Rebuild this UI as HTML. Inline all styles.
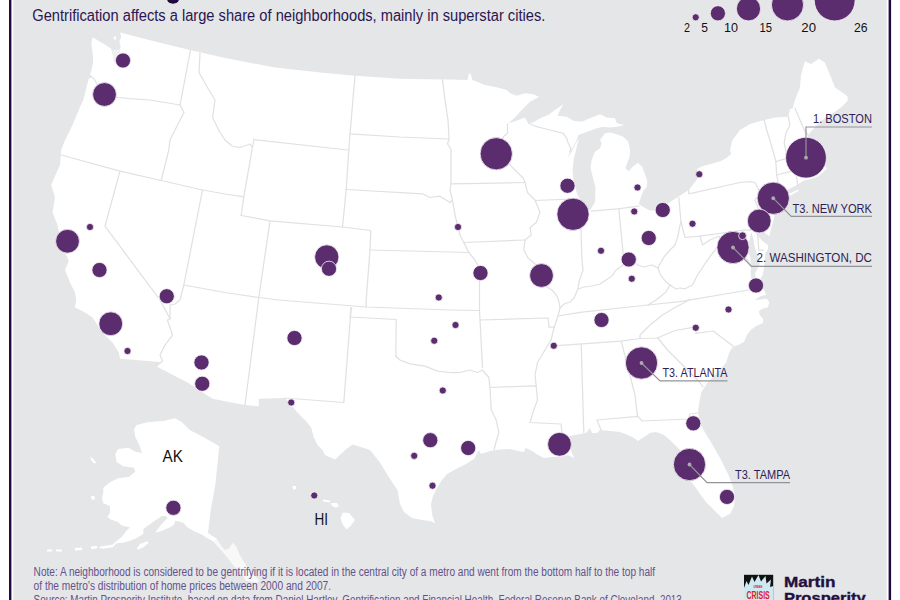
<!DOCTYPE html>
<html lang="en"><head><meta charset="utf-8"><title>Gentrification map</title>
<style>html,body{margin:0;padding:0;background:#fff;}body{width:900px;height:600px;overflow:hidden;position:relative;}svg{position:absolute;left:0;top:0;display:block;}text{font-family:"Liberation Sans",sans-serif;}</style></head><body>
<svg width="900" height="600" viewBox="0 0 900 600">
<rect x="0" y="0" width="900" height="600" fill="#ffffff"/>
<rect x="13.3" y="-5" width="873.4" height="610" fill="#e5e6e8"/>
<g fill="#ffffff" stroke="none">
<path d="M92.7,37.3 L99.3,41.3 L106.0,45.3 L111.3,48.7 L112.7,54.7 L113.3,60.0 L114.7,64.0 L116.0,58.7 L119.3,52.0 L120.7,46.7 L119.3,41.3 L121.3,37.3 L120.0,32.5 L155.0,41.5 L190.0,50.0 L225.0,58.0 L275.0,67.5 L325.0,73.0 L355.0,75.8 L400.0,78.8 L442.5,79.5 L450.0,79.5 L467.5,80.0 L468.8,73.8 L470.5,73.5 L472.5,80.0 L485.0,85.0 L497.5,87.5 L506.7,90.0 L510.0,93.3 L516.7,95.8 L525.0,93.3 L533.3,94.2 L539.2,96.7 L530.0,101.7 L521.7,110.0 L515.0,117.5 L508.3,123.3 L516.7,120.8 L525.0,117.5 L526.7,120.8 L528.3,123.0 L533.3,122.5 L540.0,118.3 L548.3,115.0 L555.0,110.0 L563.3,104.2 L559.2,111.7 L557.5,115.8 L566.7,116.7 L573.3,120.8 L581.7,121.7 L591.7,117.5 L600.0,114.2 L606.7,117.5 L615.0,118.3 L616.7,123.3 L624.2,125.0 L616.7,126.7 L610.0,127.5 L603.3,126.7 L596.7,128.3 L590.0,130.8 L583.3,133.3 L578.3,135.0 L576.7,140.0 L573.3,146.7 L570.0,151.7 L567.5,158.3 L571.5,152.0 L575.5,144.0 L579.0,138.0 L576.5,148.0 L574.0,158.0 L572.5,170.0 L573.8,182.5 L577.5,195.0 L582.5,203.8 L590.0,210.5 L595.0,202.0 L595.5,187.5 L592.5,176.0 L590.5,168.0 L591.7,160.0 L595.0,151.7 L600.0,148.3 L601.7,143.3 L600.0,140.0 L605.0,133.3 L610.0,132.5 L616.7,134.2 L623.3,136.7 L628.3,141.7 L630.0,150.0 L629.5,157.3 L627.3,162.7 L625.3,168.0 L628.7,171.3 L632.7,166.7 L638.0,162.7 L642.0,166.7 L644.7,173.3 L647.3,181.3 L646.7,186.7 L643.3,190.7 L641.3,196.0 L640.0,200.0 L638.8,204.0 L645.0,208.0 L650.0,210.5 L658.0,210.5 L666.0,205.0 L675.0,198.8 L688.8,190.0 L698.0,178.0 L697.0,169.0 L702.0,166.2 L711.0,164.0 L721.0,161.0 L727.0,157.5 L731.3,154.0 L730.0,150.0 L732.5,140.0 L740.0,130.0 L750.0,124.0 L764.2,120.0 L775.0,117.5 L788.3,116.7 L790.0,108.8 L792.5,108.8 L795.0,100.0 L800.0,87.5 L801.0,75.0 L805.0,61.2 L811.0,64.0 L818.8,58.8 L825.0,62.5 L830.0,75.0 L835.0,87.5 L847.5,96.2 L847.5,101.0 L841.7,106.7 L835.0,111.7 L827.5,116.0 L820.0,122.0 L811.7,130.8 L808.3,135.0 L806.0,142.0 L811.0,147.0 L808.0,155.0 L812.0,163.0 L820.0,166.0 L825.5,166.5 L827.0,168.5 L825.0,170.0 L819.0,176.0 L811.0,179.0 L803.0,181.0 L797.0,185.0 L788.0,189.5 L782.0,193.5 L776.0,198.0 L773.0,202.0 L775.0,207.0 L775.0,212.5 L773.5,220.0 L772.0,225.3 L769.3,236.0 L765.0,233.0 L760.0,229.0 L757.0,229.0 L756.0,233.3 L762.7,241.3 L768.0,245.3 L768.0,249.3 L765.3,253.3 L765.0,260.0 L764.0,268.0 L762.7,274.7 L759.5,280.5 L755.8,278.0 L755.0,273.5 L757.3,269.0 L759.3,265.0 L760.0,261.3 L757.3,256.0 L754.7,246.7 L753.3,238.7 L751.3,232.0 L749.3,240.0 L748.0,250.7 L750.7,258.7 L750.9,268.0 L750.6,273.0 L751.3,278.0 L752.0,281.5 L757.0,282.0 L758.0,285.0 L762.0,288.0 L764.0,290.0 L766.0,294.7 L760.0,296.5 L754.7,300.0 L761.0,299.5 L766.7,298.7 L769.3,302.0 L768.0,307.3 L763.0,308.5 L758.7,311.3 L760.0,315.3 L763.3,319.3 L762.7,323.3 L756.0,326.0 L750.7,330.0 L746.7,335.3 L744.0,342.0 L738.7,344.7 L733.3,346.7 L730.7,350.0 L728.8,353.8 L726.2,362.5 L717.5,372.5 L707.5,382.5 L701.2,392.5 L698.8,405.0 L698.0,412.0 L700.0,424.0 L706.0,434.0 L712.0,444.0 L720.0,458.0 L728.0,474.0 L732.0,484.0 L735.0,496.0 L734.0,506.0 L730.0,514.0 L722.0,518.0 L718.0,514.0 L712.0,508.0 L706.0,502.0 L700.0,494.0 L696.0,488.0 L690.0,480.0 L684.0,470.0 L682.0,455.0 L680.0,450.0 L676.0,446.0 L670.0,440.0 L664.0,435.0 L656.0,432.0 L650.0,433.0 L644.0,437.0 L638.0,441.0 L634.0,438.0 L628.0,435.0 L620.0,432.0 L610.0,431.0 L600.0,430.0 L597.0,433.0 L592.0,433.0 L590.0,428.0 L586.0,433.0 L580.0,434.0 L570.0,436.0 L566.0,440.0 L570.0,448.0 L574.0,458.0 L568.0,455.0 L560.0,457.0 L552.0,457.0 L544.0,458.0 L538.0,455.0 L532.0,451.0 L526.0,448.0 L525.0,449.0 L524.0,452.0 L518.0,451.0 L510.0,449.0 L500.0,449.6 L490.0,451.0 L481.0,454.0 L479.0,450.0 L477.0,453.0 L474.0,459.0 L466.0,464.0 L458.0,468.0 L447.0,474.0 L442.0,480.0 L437.0,488.0 L433.0,496.0 L431.0,504.0 L432.0,514.0 L435.0,523.0 L430.0,521.0 L422.0,520.0 L412.0,518.0 L404.0,512.0 L400.0,504.0 L397.5,490.0 L387.5,475.0 L380.0,462.5 L370.0,450.0 L362.5,447.5 L352.5,444.5 L345.0,450.0 L342.5,452.5 L335.0,459.5 L325.0,455.0 L322.5,450.0 L317.5,445.0 L313.8,437.5 L311.2,427.5 L305.0,420.0 L297.5,412.5 L290.0,403.8 L285.0,398.0 L258.8,398.8 L258.8,406.2 L245.0,405.0 L225.0,401.2 L212.5,398.8 L187.5,382.5 L156.2,366.2 L160.0,362.0 L120.0,358.8 L118.8,352.5 L112.5,342.5 L105.0,335.0 L97.5,325.0 L92.5,317.5 L85.0,312.5 L75.0,307.5 L76.2,300.0 L75.0,292.5 L70.0,282.5 L65.0,270.0 L68.8,261.0 L66.2,255.0 L63.0,248.0 L60.0,238.0 L57.5,225.0 L52.5,212.5 L55.0,197.5 L51.2,185.0 L53.8,178.8 L60.0,165.0 L61.2,150.0 L64.0,142.5 L72.5,125.0 L80.0,107.0 L83.3,100.0 L86.0,89.3 L88.7,78.7 L91.3,77.3 L90.0,74.7 L91.3,70.7 L92.2,66.0 L93.3,62.7 L92.7,53.3 L91.3,44.0Z"/>
<path d="M776.0,202.5 L785.0,195.8 L798.5,189.3 L798.3,191.0 L787.0,197.8 L779.0,204.0Z"/>
<path d="M113.5,36.8 L116.0,36.5 L116.3,39.3 L114.0,39.8Z"/>
<path d="M213.3,536.7 L216.7,538.7 L220.7,545.0 L224.7,550.0 L228.7,548.7 L232.7,542.7 L236.0,546.0 L239.3,554.0 L243.3,560.7 L247.3,567.3 L252.7,574.0 L259.3,580.7 L257.0,583.0 L246.0,580.7 L240.7,572.7 L232.7,564.7 L228.7,559.3 L224.0,553.5 L219.0,548.0 L214.0,542.5 L211.0,539.0Z" fill-opacity="0.72"/>
<path d="M112.3,50.0 L120.0,49.0 L117.5,57.0 L114.7,64.0 L113.0,58.0Z" fill-opacity="0.45"/>
<path d="M134.0,429.0 L136.7,425.0 L147.3,422.3 L163.3,421.0 L175.3,418.3 L182.0,422.3 L190.0,430.3 L203.3,437.0 L219.3,446.3 L215.3,485.0 L210.7,510.0 L208.0,532.7 L213.3,536.7 L216.7,538.7 L214.0,541.5 L206.0,537.5 L203.3,535.3 L194.0,531.3 L187.3,527.3 L183.3,522.7 L178.0,521.3 L175.3,520.7 L174.0,524.7 L170.0,527.3 L160.7,531.3 L155.3,532.7 L158.5,528.0 L163.0,522.5 L167.5,518.0 L166.0,516.0 L162.0,516.0 L154.0,521.3 L147.3,526.0 L143.3,529.3 L143.3,534.0 L136.7,538.0 L130.0,540.7 L123.3,542.7 L116.7,543.3 L112.7,547.3 L103.3,548.7 L98.0,547.3 L103.3,546.0 L112.7,544.7 L116.7,540.7 L122.0,536.7 L126.0,531.3 L130.0,527.3 L123.3,526.0 L120.7,524.7 L118.0,522.0 L110.0,519.3 L107.3,516.7 L110.0,512.7 L110.0,506.0 L103.3,503.3 L102.0,498.0 L103.3,492.7 L103.3,487.7 L110.0,482.3 L118.0,478.3 L128.7,477.0 L135.3,471.7 L134.0,467.7 L123.3,466.3 L116.7,462.3 L115.3,454.3 L118.0,449.0 L128.7,447.7 L135.3,451.7 L142.0,453.0 L139.3,445.0 L135.3,437.0Z"/>
<path d="M90.0,457.0 L93.0,458.5 L96.5,463.0 L94.0,463.5 L91.0,460.0Z"/>
<path d="M91.0,496.0 L94.5,496.0 L95.0,499.5 L91.5,499.5Z"/>
<path d="M136.7,548.5 L140.0,544.0 L147.5,541.3 L148.7,543.0 L143.0,547.5 L138.0,549.5Z"/>
<path d="M91.0,546.5 L97.0,546.0 L97.0,548.5 L91.0,549.0Z"/>
<path d="M75.0,548.0 L82.0,547.5 L82.0,550.0 L75.0,550.5Z"/>
<path d="M56.0,549.5 L62.0,549.5 L62.0,551.5 L56.0,551.5Z"/>
<path d="M47.0,549.5 L52.0,549.5 L52.0,551.5 L47.0,551.5Z"/>
<path d="M292.5,486.0 L296.0,486.0 L296.5,489.0 L293.0,489.5Z"/>
<path d="M310.0,493.0 L316.0,494.0 L316.0,498.0 L311.0,497.0Z"/>
<path d="M323.0,499.5 L330.0,500.5 L330.0,502.5 L323.0,501.5Z"/>
<path d="M331.0,503.0 L337.0,503.0 L339.0,506.5 L335.0,507.5 L331.5,505.5Z"/>
<path d="M343.0,512.5 L349.0,513.0 L355.0,520.0 L350.5,526.0 L346.5,529.5 L342.5,524.0 L340.5,518.0Z"/>
</g>
<g fill="none" stroke="#e0e1e3" stroke-width="1.25" stroke-linejoin="round" stroke-linecap="round">
<path d="M90.5,76.0 L94.0,79.0 L97.0,84.0 L104.0,95.0 L117.5,97.5 L130.0,98.7 L150.0,100.0 L180.0,105.0"/>
<path d="M190.5,50.0 L180.0,105.0"/>
<path d="M180.0,105.0 L184.0,112.5 L175.0,130.0 L170.0,140.0 L168.8,150.0 L161.2,180.5"/>
<path d="M200.0,53.0 L199.0,72.5 L207.5,87.5 L215.0,100.0 L212.5,117.5 L220.0,132.5 L225.0,140.0 L232.0,146.0 L240.0,147.5 L250.0,144.0 L252.5,147.5"/>
<path d="M61.2,155.0 L120.0,171.2 L161.2,180.5 L202.5,190.0 L225.0,194.0 L243.8,196.8"/>
<path d="M120.0,171.2 L105.0,226.2 L160.0,300.0 L170.0,318.8"/>
<path d="M202.5,190.0 L183.8,285.0 L180.0,300.0 L175.0,304.0 L170.0,305.0 L170.0,318.8"/>
<path d="M170.0,318.8 L167.5,320.0 L172.5,335.0 L165.0,345.0 L160.0,355.0 L162.5,361.0 L156.2,366.2"/>
<path d="M183.8,285.0 L225.0,292.5 L258.8,297.5 L278.8,300.0 L366.2,307.0 L450.0,310.0 L479.5,310.5"/>
<path d="M253.8,139.5 L243.8,196.8 L241.2,215.5"/>
<path d="M253.8,139.5 L347.5,150.0"/>
<path d="M241.2,215.5 L270.0,220.8 L342.5,227.0"/>
<path d="M355.0,75.8 L350.0,133.8 L348.8,150.0 L346.2,189.5 L342.5,227.0"/>
<path d="M270.0,220.8 L258.8,297.5 L245.0,405.0"/>
<path d="M342.5,227.0 L370.8,230.5 L370.0,250.0 L366.2,300.0 L366.2,307.0"/>
<path d="M350.0,133.8 L400.0,137.0 L449.0,139.0"/>
<path d="M442.5,79.5 L445.0,100.0 L448.0,120.0 L448.8,135.0 L449.0,139.0 L447.5,144.0 L451.0,149.0 L451.0,184.0 L450.0,190.0 L452.5,200.0 L455.0,215.0 L460.0,235.0 L463.8,242.5 L468.8,252.5 L475.0,260.0 L479.5,268.0 L479.5,310.5 L480.0,320.0 L482.5,367.5"/>
<path d="M346.2,189.5 L422.5,193.8 L430.0,197.5 L440.0,196.2 L450.0,202.5 L452.5,200.0"/>
<path d="M370.0,250.0 L450.0,252.0 L468.8,252.5"/>
<path d="M451.0,183.8 L525.0,182.5"/>
<path d="M463.8,242.5 L525.0,240.0"/>
<path d="M507.5,123.8 L507.5,133.3 L503.3,136.7 L503.0,145.0 L506.0,158.0 L510.0,165.0 L516.7,171.7 L523.3,178.3 L525.0,182.5 L527.5,192.5 L535.0,200.0 L540.0,212.5 L536.2,222.5 L530.0,227.5 L531.2,235.0 L525.0,240.0 L523.8,250.0 L528.0,258.0 L534.0,263.0 L540.0,269.0 L544.0,281.0 L547.0,287.0 L552.0,290.0 L557.0,296.0 L559.0,302.0 L560.0,308.0 L558.0,316.0 L554.0,328.0 L551.0,340.0 L545.0,350.0 L537.5,362.5 L535.0,375.0 L536.2,386.2 L537.5,400.0 L533.8,410.0 L530.0,422.5 L561.0,424.0 L562.0,432.0 L565.0,438.0"/>
<path d="M535.0,200.5 L575.0,198.8"/>
<path d="M528.3,123.0 L536.7,126.7 L550.0,130.0 L563.3,133.3 L566.7,138.3 L568.3,143.3 L570.8,148.3 L570.0,151.7"/>
<path d="M578.5,211.0 L581.0,230.0 L582.0,260.0 L583.0,270.0 L579.0,282.0 L578.0,289.0"/>
<path d="M591.2,211.2 L617.5,208.8 L638.8,206.2"/>
<path d="M618.8,209.0 L623.8,260.0"/>
<path d="M560.0,308.0 L564.0,304.0 L570.0,302.0 L574.0,298.0 L578.0,289.0 L584.0,287.0 L592.0,286.0 L600.0,284.0 L606.0,280.0 L612.0,276.0 L616.0,270.0 L622.0,266.0 L628.8,259.4 L638.0,265.0 L644.0,267.0 L652.0,265.0 L658.0,268.0 L660.0,264.0 L664.0,257.0 L670.0,250.0 L675.0,245.0 L678.0,236.0 L680.0,225.0 L681.0,222.0"/>
<path d="M678.8,197.5 L681.0,222.0 L685.0,237.5 L700.0,236.2 L743.8,230.0 L750.0,230.0"/>
<path d="M688.8,190.0 L688.8,193.8 L740.0,182.5 L750.0,181.7 L755.0,182.5 L760.0,192.5 L755.0,200.0 L758.0,208.0 L750.0,230.0"/>
<path d="M760.0,191.0 L773.0,202.0"/>
<path d="M764.2,120.0 L766.7,130.0 L770.8,143.3 L774.2,155.0 L775.8,161.7 L776.7,175.0 L778.3,183.3 L780.0,190.0 L783.0,194.0"/>
<path d="M788.3,116.7 L790.0,125.0 L785.8,133.3 L784.2,143.3 L785.8,150.0 L786.7,158.3"/>
<path d="M795.0,108.3 L805.0,131.7 L808.0,135.0"/>
<path d="M775.8,161.7 L786.7,158.3 L800.0,154.0"/>
<path d="M776.7,175.0 L790.0,171.7 L798.0,170.0"/>
<path d="M796.0,170.5 L797.5,185.0"/>
<path d="M700.0,236.2 L702.5,245.0 L710.0,240.0 L718.8,236.2 L722.5,240.0 L715.0,250.0 L707.5,260.0 L702.5,267.5 L697.5,275.0 L692.5,285.0 L685.0,288.8 L680.0,288.0 L676.0,289.0 L670.0,285.0"/>
<path d="M658.0,268.0 L660.0,274.0 L666.0,282.0 L670.0,285.0 L666.0,292.0 L656.0,300.0 L648.0,305.0"/>
<path d="M558.0,316.0 L580.0,312.4 L648.0,305.0 L680.0,301.7 L748.7,290.0 L757.0,288.7"/>
<path d="M690.0,299.5 L675.0,307.5 L662.5,315.0 L650.0,325.0 L640.0,335.0 L640.0,338.5"/>
<path d="M553.8,345.8 L621.2,341.2 L640.0,338.5 L657.5,338.0 L668.0,333.5 L675.0,330.5 L691.3,327.6 L696.0,328.0 L696.0,333.3 L713.3,331.0 L733.3,346.3"/>
<path d="M657.5,337.5 L667.5,350.0 L675.0,357.5 L700.0,382.5 L703.0,387.0"/>
<path d="M621.2,341.2 L635.0,395.0 L637.5,416.2"/>
<path d="M581.2,344.5 L583.8,432.5"/>
<path d="M601.0,430.0 L597.0,420.0 L638.0,416.4 L642.0,421.0 L688.0,419.0 L690.0,414.0 L698.0,413.0"/>
<path d="M480.0,320.0 L548.0,318.0 L549.0,327.0 L554.0,327.0"/>
<path d="M395.8,356.2 L400.0,360.0 L410.0,363.8 L425.0,366.2 L437.5,371.2 L450.0,372.5 L460.0,372.5 L470.0,370.0 L477.5,372.5 L482.5,370.0 L488.8,377.5 L490.0,387.5 L491.2,410.0 L496.2,420.0 L498.8,432.5 L496.0,442.0 L494.0,450.0"/>
<path d="M490.0,387.5 L533.8,385.8 L536.2,386.2"/>
<path d="M351.2,307.5 L350.0,317.0 L396.2,319.5 L395.8,356.2"/>
<path d="M351.2,307.5 L343.8,402.5"/>
<path d="M285.0,398.0 L343.8,402.5"/>
<path d="M757.5,232.5 L758.8,250.0 L763.8,250.0"/>
<path d="M722.5,240.0 L733.0,247.0 L747.5,260.0 L752.0,268.0"/>
</g>
<g fill="#5c2d6e" stroke="#f6f3f8" stroke-width="0.8">
<circle cx="695.7" cy="17.30" r="3.60"/>
<circle cx="717.9" cy="13.30" r="7.60"/>
<circle cx="748.5" cy="8.80" r="12.10"/>
<circle cx="787.5" cy="4.80" r="16.10"/>
<circle cx="834.7" cy="0.50" r="20.40"/>
<circle cx="123" cy="60.5" r="7.60"/>
<circle cx="104.5" cy="94.5" r="11.90"/>
<circle cx="90" cy="227" r="3.60"/>
<circle cx="67.5" cy="241.25" r="11.90"/>
<circle cx="99.5" cy="270" r="7.60"/>
<circle cx="166.75" cy="296.25" r="7.60"/>
<circle cx="110.75" cy="323.75" r="11.90"/>
<circle cx="127.5" cy="351" r="3.60"/>
<circle cx="201.5" cy="362.5" r="7.60"/>
<circle cx="202.25" cy="383.75" r="7.60"/>
<circle cx="326.75" cy="257" r="12.15"/>
<circle cx="329" cy="268.75" r="7.60"/>
<circle cx="294.5" cy="338" r="7.60"/>
<circle cx="291.25" cy="402.5" r="3.60"/>
<circle cx="438.75" cy="297.5" r="3.60"/>
<circle cx="434.25" cy="340.75" r="3.60"/>
<circle cx="442.75" cy="390.5" r="3.60"/>
<circle cx="430.3" cy="440.2" r="7.60"/>
<circle cx="414.2" cy="455.8" r="3.60"/>
<circle cx="432.5" cy="485.7" r="3.60"/>
<circle cx="468.2" cy="448" r="7.60"/>
<circle cx="455.5" cy="325" r="3.60"/>
<circle cx="458" cy="227" r="3.60"/>
<circle cx="480.5" cy="273" r="7.60"/>
<circle cx="496.25" cy="153.75" r="16.15"/>
<circle cx="567.5" cy="185.75" r="7.60"/>
<circle cx="573" cy="214.25" r="16.15"/>
<circle cx="541.5" cy="275.5" r="11.90"/>
<circle cx="553.75" cy="345.75" r="3.60"/>
<circle cx="559.5" cy="444.3" r="11.90"/>
<circle cx="601.5" cy="320" r="7.60"/>
<circle cx="601" cy="250.75" r="3.60"/>
<circle cx="628.75" cy="259.5" r="7.60"/>
<circle cx="631.75" cy="278.75" r="3.60"/>
<circle cx="648.75" cy="238" r="7.60"/>
<circle cx="662.75" cy="210" r="7.60"/>
<circle cx="634.25" cy="211.5" r="3.60"/>
<circle cx="637.5" cy="187.5" r="3.60"/>
<circle cx="699.25" cy="174.25" r="3.60"/>
<circle cx="692.5" cy="223.75" r="3.60"/>
<circle cx="806" cy="157.7" r="20.40"/>
<circle cx="773.25" cy="198.25" r="16.15"/>
<circle cx="759.25" cy="221" r="11.90"/>
<circle cx="733" cy="247.5" r="16.15"/>
<circle cx="742.5" cy="235.75" r="3.90"/>
<circle cx="756" cy="285.5" r="7.60"/>
<circle cx="728.5" cy="309.5" r="3.60"/>
<circle cx="695.75" cy="327.75" r="3.60"/>
<circle cx="641.5" cy="363" r="16.15"/>
<circle cx="693.3" cy="423.3" r="7.60"/>
<circle cx="689.5" cy="464.5" r="16.15"/>
<circle cx="727" cy="496.9" r="7.60"/>
<circle cx="173.4" cy="507.8" r="7.60"/>
<circle cx="314.25" cy="495.5" r="3.60"/>
</g>
<g fill="none" stroke="#939497" stroke-width="1.2">
<path d="M806.0,157.7 L806.0,127.0 L872.0,127.0"/>
<path d="M773.2,198.2 L791.2,216.4 L872.0,216.4"/>
<path d="M733.0,247.5 L751.5,266.4 L872.0,266.4"/>
<path d="M641.5,363.0 L660.0,380.9 L727.5,380.9"/>
<path d="M689.5,464.5 L707.0,482.6 L790.0,482.6"/>
</g>
<g fill="#a9abae" stroke="none">
<circle cx="806" cy="157.7" r="1.9"/>
<circle cx="773.25" cy="198.25" r="1.9"/>
<circle cx="733" cy="247.5" r="1.9"/>
<circle cx="641.5" cy="363" r="1.9"/>
<circle cx="689.5" cy="464.5" r="1.9"/>
</g>
<g fill="#2f1d55" font-size="12.2">
<text x="813" y="123.2" textLength="59" lengthAdjust="spacingAndGlyphs">1. BOSTON</text>
<text x="792.5" y="212.6" textLength="79.5" lengthAdjust="spacingAndGlyphs">T3. NEW YORK</text>
<text x="756.5" y="261.9" textLength="115.5" lengthAdjust="spacingAndGlyphs">2. WASHINGTON, DC</text>
<text x="662.5" y="377.1" textLength="65.0" lengthAdjust="spacingAndGlyphs">T3. ATLANTA</text>
<text x="735" y="479.3" textLength="55" lengthAdjust="spacingAndGlyphs">T3. TAMPA</text>
</g>
<g fill="#111111" font-size="12">
<text x="684" y="32" textLength="6.0" lengthAdjust="spacingAndGlyphs">2</text>
<text x="701.3" y="32" textLength="6.7" lengthAdjust="spacingAndGlyphs">5</text>
<text x="724" y="32" textLength="14.0" lengthAdjust="spacingAndGlyphs">10</text>
<text x="759.5" y="32" textLength="12.5" lengthAdjust="spacingAndGlyphs">15</text>
<text x="801.3" y="32" textLength="14.7" lengthAdjust="spacingAndGlyphs">20</text>
<text x="853.9" y="32" textLength="13.6" lengthAdjust="spacingAndGlyphs">26</text>
</g>
<text x="162.5" y="461.8" font-size="16" fill="#111" textLength="20.3" lengthAdjust="spacingAndGlyphs">AK</text>
<text x="314.5" y="524.7" font-size="16" fill="#111" textLength="13.5" lengthAdjust="spacingAndGlyphs">HI</text>
<ellipse cx="173" cy="-1.2" rx="6" ry="5" fill="#210a3f"/>
<text x="32.3" y="21.2" font-size="16" fill="#2a1650" textLength="513" lengthAdjust="spacingAndGlyphs">Gentrification affects a large share of neighborhoods, mainly in superstar cities.</text>
<g fill="#64528a" font-size="12.3">
<text x="33.6" y="576.4" textLength="621.5" lengthAdjust="spacingAndGlyphs">Note: A neighborhood is considered to be gentrifying if it is located in the central city of a metro and went from the bottom half to the top half</text>
<text x="33.6" y="590.1" textLength="297.5" lengthAdjust="spacingAndGlyphs">of the metro’s distribution of home prices between 2000 and 2007.</text>
<text x="33.6" y="603.8" textLength="651" lengthAdjust="spacingAndGlyphs">Source: Martin Prosperity Institute, based on data from Daniel Hartley, Gentrification and Financial Health, Federal Reserve Bank of Cleveland, 2013.</text>
</g>
<g>
<rect x="744" y="574.8" width="29.2" height="30" fill="#111111"/>
<path d="M744,605 L744,588 L746.5,581 L748.5,585 L752,576.5 L754.5,582 L758.5,575 L761,581.5 L765.5,576 L766.5,583.5 L771,579.5 L770,587 L773.2,586 L773.2,605 Z" fill="#cfe9f2"/>
<text x="753.4" y="588.3" font-size="3.2" font-weight="bold" fill="#d8232a" textLength="9" lengthAdjust="spacingAndGlyphs">URBAN</text>
<text x="746.4" y="598.8" font-size="10.8" font-weight="bold" fill="#e0202a" textLength="23.4" lengthAdjust="spacingAndGlyphs">CRISIS</text>
</g>
<text x="783.9" y="586.8" font-size="15" font-weight="bold" fill="#1f1040" stroke="#1f1040" stroke-width="0.35" textLength="51.5" lengthAdjust="spacingAndGlyphs">Martin</text>
<text x="783.9" y="602.5" font-size="15" font-weight="bold" fill="#1f1040" stroke="#1f1040" stroke-width="0.35" textLength="81.8" lengthAdjust="spacingAndGlyphs">Prosperity</text>
<rect x="9.0" y="-5" width="2.4" height="610" fill="#210a3f"/>
<rect x="888.6" y="-5" width="2.5" height="610" fill="#210a3f"/>
</svg></body></html>
